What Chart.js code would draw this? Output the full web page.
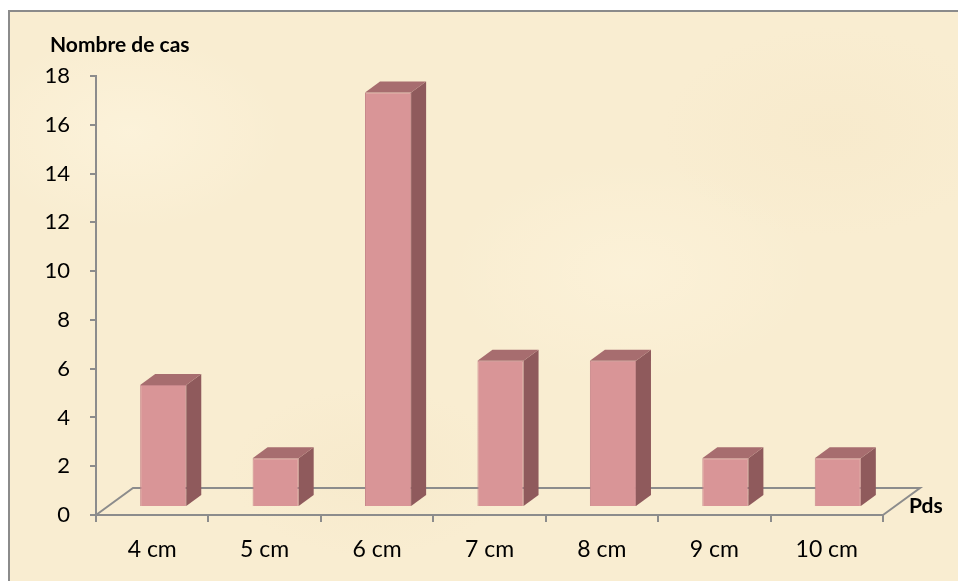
<!DOCTYPE html>
<html>
<head>
<meta charset="utf-8">
<script src="https://cdn.jsdelivr.net/npm/chart.js@4"></script>
<style>
  html, body { margin: 0; padding: 0; background: #fff; overflow: hidden; }
  #frame {
    position: absolute; left: 8px; top: 10px; width: 1000px; height: 620px;
    border: 2px solid #8b8b8b; box-sizing: border-box;
    background:
      radial-gradient(ellipse 220px 140px at 120px 120px, rgba(255,248,228,0.45), rgba(255,248,228,0) 70%),
      radial-gradient(ellipse 260px 160px at 620px 260px, rgba(255,247,226,0.4), rgba(255,247,226,0) 70%),
      radial-gradient(ellipse 200px 120px at 360px 460px, rgba(242,226,192,0.3), rgba(242,226,192,0) 70%),
      radial-gradient(ellipse 240px 150px at 820px 120px, rgba(244,228,194,0.3), rgba(244,228,194,0) 70%),
      #f9edd1;
  }
  #c { position: absolute; left: 0; top: 0; }
</style>
</head>
<body>
<div id="frame"></div>
<canvas id="c" width="958" height="581"></canvas>
<script>
/* Nombre de cas par taille (Pds) */
const categories = ['4 cm', '5 cm', '6 cm', '7 cm', '8 cm', '9 cm', '10 cm'];
const cases = [5, 2, 17, 6, 6, 2, 2];
const yMin = 0, yMax = 18, yStep = 2;

const COLORS = {
  front: '#d99597', side: '#8f5a5c', top: '#a76d6f', edge: '#c7868a',
  axis: '#8c8c8c', text: '#000',
};
const FONT = 'Lato, "Open Sans", sans-serif';

// 3D look: floor depth, bar shift from front plane, bar depth
const FLOOR = { x: 37, y: -27 };
const SHIFT = { x: 11, y: -8 };
const DEPTH = { x: 15, y: -11 };

const bars3d = {
  id: 'bars3d',
  beforeDatasetsDraw(chart) {
    const { ctx, chartArea: a } = chart;
    ctx.save();
    ctx.strokeStyle = COLORS.axis;
    ctx.lineWidth = 2;
    ctx.beginPath();
    ctx.moveTo(a.left, a.bottom);
    ctx.lineTo(a.left + FLOOR.x, a.bottom + FLOOR.y);
    ctx.lineTo(a.right + FLOOR.x, a.bottom + FLOOR.y);
    ctx.lineTo(a.right, a.bottom);
    ctx.stroke();
    ctx.restore();
    ctx.save();
    ctx.translate(SHIFT.x, SHIFT.y);
  },
  afterDatasetsDraw(chart) {
    const { ctx } = chart;
    ctx.restore();
    const meta = chart.getDatasetMeta(0);
    ctx.save();
    meta.data.forEach(bar => {
      const { x, y, base, width } = bar.getProps(['x', 'y', 'base', 'width'], true);
      const l = x - width / 2 + SHIFT.x, r = x + width / 2 + SHIFT.x;
      const t = y + SHIFT.y, b = base + SHIFT.y;
      // side face
      ctx.fillStyle = COLORS.side;
      ctx.beginPath();
      ctx.moveTo(r, t);
      ctx.lineTo(r + DEPTH.x, t + DEPTH.y);
      ctx.lineTo(r + DEPTH.x, b + DEPTH.y);
      ctx.lineTo(r, b);
      ctx.closePath();
      ctx.fill();
      // top face
      ctx.fillStyle = COLORS.top;
      ctx.beginPath();
      ctx.moveTo(l, t);
      ctx.lineTo(l + DEPTH.x, t + DEPTH.y);
      ctx.lineTo(r + DEPTH.x, t + DEPTH.y);
      ctx.lineTo(r, t);
      ctx.closePath();
      ctx.fill();
    });
    ctx.restore();
  },
  afterDraw(chart) {
    const { ctx } = chart;
    ctx.save();
    ctx.fillStyle = COLORS.text;
    ctx.font = 'bold 21px ' + FONT;
    ctx.textBaseline = 'alphabetic';
    ctx.textAlign = 'left';
    ctx.fillText('Nombre de cas', 50, 52);
    ctx.fillText('Pds', 909, 513);
    ctx.restore();
  }
};

new Chart(document.getElementById('c'), {
  type: 'bar',
  data: {
    labels: categories,
    datasets: [{
      data: cases,
      backgroundColor: COLORS.front,
      borderColor: COLORS.edge,
      borderWidth: 1,
      barPercentage: 0.41,
      categoryPercentage: 1,
    }]
  },
  options: {
    responsive: false, animation: false,
    layout: { padding: { top: 76, right: 75, left: 0, bottom: 0 } },
    plugins: { legend: { display: false }, tooltip: { enabled: false } },
    scales: {
      x: {
        grid: { drawOnChartArea: false, drawTicks: true, tickLength: 7, color: COLORS.axis, lineWidth: 2 },
        border: { display: true, color: COLORS.axis, width: 2 },
        ticks: { color: COLORS.text, font: { family: FONT, size: 23 }, padding: 14, maxRotation: 0 },
        afterFit: s => { s.height = 66; },
      },
      y: {
        min: yMin, max: yMax,
        grid: { drawOnChartArea: false, drawTicks: true, tickLength: 6, color: COLORS.axis, lineWidth: 2 },
        border: { display: true, color: COLORS.axis, width: 2 },
        ticks: { stepSize: yStep, color: COLORS.text, font: { family: FONT, size: 22 }, padding: 20 },
        afterFit: s => { s.width = 96; },
      }
    }
  },
  plugins: [bars3d]
});
</script>
</body>
</html>
